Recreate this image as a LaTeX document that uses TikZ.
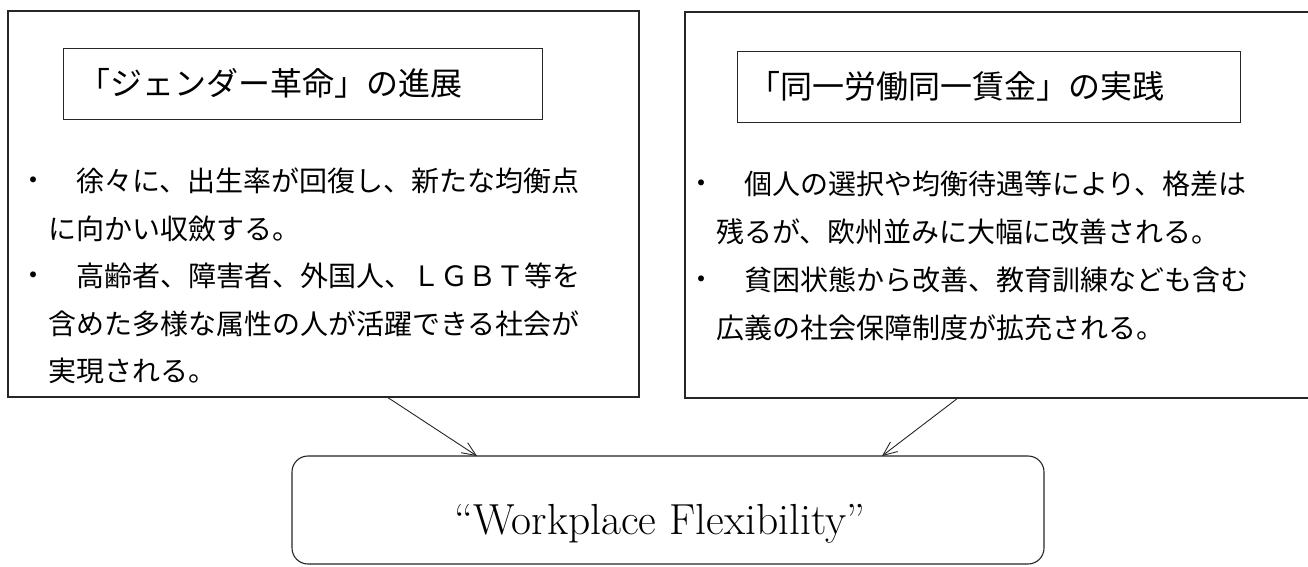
\documentclass[tikz,border=0pt]{standalone}
\usepackage{fontspec}
\newfontfamily\cjk{Noto Sans CJK JP}
\usetikzlibrary{arrows.meta}
\tikzset{
  frame/.style={draw=black!85, line width=1.1pt, outer sep=0pt, inner sep=0pt},
  titlebox/.style={draw=black!85, line width=1pt, outer sep=0pt, inner sep=0pt},
  titletext/.style={font=\cjk\fontsize{32}{34}\selectfont, inner sep=0pt, anchor=west},
  body/.style={font=\cjk\fontsize{28}{30}\selectfont, inner sep=0pt, anchor=west},
  dot/.style={font=\cjk\fontsize{28}{30}\selectfont, inner sep=0pt},
  arr/.style={-{Straight Barb[length=14pt,width=12pt]}, line width=0.9pt, draw=black!85},
}
\begin{document}
\begin{tikzpicture}[x=1pt,y=-1pt]
\useasboundingbox (0,0) rectangle (1308,566);
\fill[white] (0,0) rectangle (1308,566);
% outer boxes
\node[frame, minimum width=631pt, minimum height=386pt] (lbox) at (323.5,204) {};
\node[frame, minimum width=627pt, minimum height=386pt] (rbox) at (998.5,205) {};
% title boxes
\node[titlebox, minimum width=479pt, minimum height=71pt] (lt) at (302.5,83.5) {};
\node[titlebox, minimum width=503pt, minimum height=71pt] (rt) at (988.5,86.5) {};
\node[titletext] (ltt) at (78,83.5) {「ジェンダー革命」の進展};
\node[titletext] (rtt) at (748,86.5) {「同一労働同一賃金」の実践};
% left body
\node[dot] (lb1) at (33,184) {・};
\node[dot] (lb2) at (33,279) {・};
\node[body] (l1) at (48,181) {　徐々に、出生率が回復し、新たな均衡点};
\node[body] (l2) at (48,228.5) {に向かい収斂する。};
\node[body] (l3) at (48,276) {　高齢者、障害者、外国人、ＬＧＢＴ等を};
\node[body] (l4) at (48,323.5) {含めた多様な属性の人が活躍できる社会が};
\node[body] (l5) at (48,371) {実現される。};
% right body
\node[dot] (rb1) at (701,187) {・};
\node[dot] (rb2) at (701,283) {・};
\node[body] (r1) at (716,184) {　個人の選択や均衡待遇等により、格差は};
\node[body] (r2) at (716,232) {残るが、欧州並みに大幅に改善される。};
\node[body] (r3) at (716,280) {　貧困状態から改善、教育訓練なども含む};
\node[body] (r4) at (716,328) {広義の社会保障制度が拡充される。};
% bottom box
\node[frame, rounded corners=16pt, minimum width=752pt, minimum height=108pt] (wf) at (668,510) {};
\node[font=\fontsize{43.5}{47}\selectfont, inner sep=0pt, anchor=base] (wft) at (660,534) {“Workplace Flexibility”};
% arrows
\draw[arr] ([xshift=63.5pt]lbox.south) -- ([xshift=-191pt]wf.north);
\draw[arr] ([xshift=-40.5pt]rbox.south) -- ([xshift=214pt]wf.north);
\end{tikzpicture}
\end{document}
